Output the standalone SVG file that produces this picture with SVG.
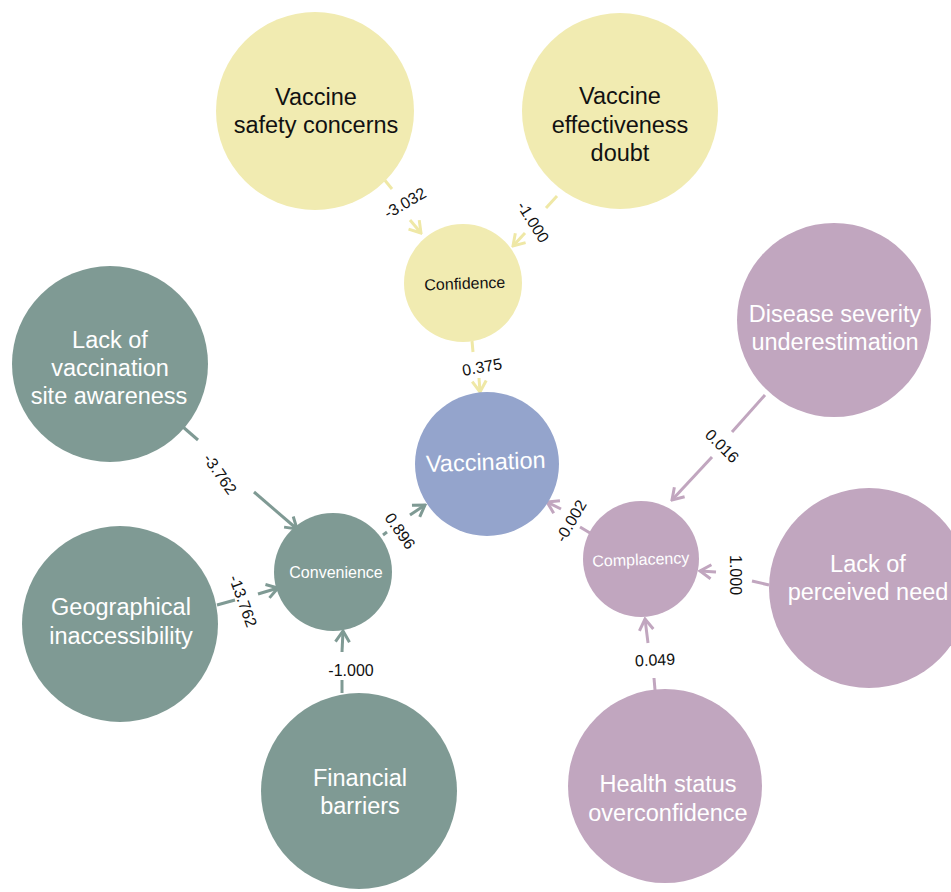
<svg xmlns="http://www.w3.org/2000/svg" width="951" height="892" viewBox="0 0 951 892">
<style>
text{font-family:"Liberation Sans",Arial,sans-serif;text-anchor:middle}
.big{font-size:23.5px}
.small{font-size:16px}
.dark{fill:#111}
.light{fill:#fff}
.lbl{font-size:16px;fill:#111;dominant-baseline:central}
.y{fill:#f1ebb1}
.t{fill:#7f9a94}
.p{fill:#c1a6bf}
.b{fill:#94a4cc}
.ey{stroke:#efe8a6;stroke-width:3;fill:none}
.et{stroke:#7f9a94;stroke-width:3;fill:none}
.ep{stroke:#c1a6bf;stroke-width:3;fill:none}
</style>
<defs>
<marker id="ay" viewBox="-13 -9 15 18" refX="0" refY="0" markerWidth="15" markerHeight="18" markerUnits="userSpaceOnUse" orient="auto"><path d="M-11,-7 L0,0 L-11,7" fill="none" stroke="#efe8a6" stroke-width="3"/></marker>
<marker id="at" viewBox="-13 -9 15 18" refX="0" refY="0" markerWidth="15" markerHeight="18" markerUnits="userSpaceOnUse" orient="auto"><path d="M-11,-7 L0,0 L-11,7" fill="none" stroke="#7f9a94" stroke-width="3"/></marker>
<marker id="ap" viewBox="-13 -9 15 18" refX="0" refY="0" markerWidth="15" markerHeight="18" markerUnits="userSpaceOnUse" orient="auto"><path d="M-11,-7 L0,0 L-11,7" fill="none" stroke="#c1a6bf" stroke-width="3"/></marker>
</defs>
<rect width="951" height="892" fill="#fff"/>

<g id="connectors">
<line class="ey" x1="383" y1="178" x2="392" y2="189"/>
<line class="ey" x1="410" y1="220" x2="421" y2="233" marker-end="url(#ay)"/>
<line class="ey" x1="557" y1="196" x2="546" y2="208"/>
<line class="ey" x1="525" y1="233" x2="513" y2="246" marker-end="url(#ay)"/>
<line class="ey" x1="472" y1="341" x2="473" y2="352"/>
<line class="ey" x1="479" y1="378" x2="480" y2="392" marker-end="url(#ay)"/>
<line class="et" x1="183" y1="427" x2="198" y2="440"/>
<line class="et" x1="254" y1="492" x2="297" y2="529" marker-end="url(#at)"/>
<line class="et" x1="217" y1="605" x2="235" y2="600"/>
<line class="et" x1="258" y1="594" x2="278" y2="588" marker-end="url(#at)"/>
<line class="et" x1="342" y1="693" x2="342" y2="680"/>
<line class="et" x1="342" y1="652" x2="343" y2="631" marker-end="url(#at)"/>
<line class="et" x1="383" y1="535" x2="387" y2="532"/>
<line class="et" x1="410" y1="515" x2="425" y2="505" marker-end="url(#at)"/>
<line class="ep" x1="765" y1="395" x2="732" y2="432"/>
<line class="ep" x1="712" y1="457" x2="672" y2="500" marker-end="url(#ap)"/>
<line class="ep" x1="769" y1="585" x2="752" y2="581"/>
<line class="ep" x1="716" y1="572" x2="700" y2="571" marker-end="url(#ap)"/>
<line class="ep" x1="655" y1="690" x2="654" y2="678"/>
<line class="ep" x1="648" y1="643" x2="645" y2="619" marker-end="url(#ap)"/>
<line class="ep" x1="590" y1="533" x2="580" y2="527"/>
<line class="ep" x1="561" y1="509" x2="547" y2="502" marker-end="url(#ap)"/>
<text class="lbl" transform="translate(405,203) rotate(-30)">-3.032</text>
<text class="lbl" transform="translate(533,222) rotate(58)">-1.000</text>
<text class="lbl" transform="translate(482,367) rotate(-10)">0.375</text>
<text class="lbl" transform="translate(220,474) rotate(55)">-3.762</text>
<text class="lbl" transform="translate(243,601) rotate(70)">-13.762</text>
<text class="lbl" transform="translate(351,670)">-1.000</text>
<text class="lbl" transform="translate(400,531) rotate(55)">0.896</text>
<text class="lbl" transform="translate(722,446) rotate(45)">0.016</text>
<text class="lbl" transform="translate(735,575) rotate(90)">1.000</text>
<text class="lbl" transform="translate(655,660) rotate(-3)">0.049</text>
<text class="lbl" transform="translate(571,521) rotate(-60)">-0.002</text>
</g>

<g id="safety">
<circle class="y" cx="315" cy="111" r="99"/>
<text class="big dark" x="316" y="105">Vaccine</text>
<text class="big dark" x="316" y="133">safety concerns</text>
</g>
<g id="effectiveness">
<circle class="y" cx="620" cy="111" r="98"/>
<text class="big dark" x="620" y="104">Vaccine</text>
<text class="big dark" x="620" y="133">effectiveness</text>
<text class="big dark" x="620" y="161">doubt</text>
</g>
<g id="confidence">
<circle class="y" cx="463" cy="283" r="59"/>
<text class="small dark" transform="translate(465,289) rotate(-2)">Confidence</text>
</g>
<g id="vaccination">
<circle class="b" cx="487" cy="464" r="72"/>
<text class="big light" transform="translate(486,470) rotate(-2)">Vaccination</text>
</g>
<g id="awareness">
<circle class="t" cx="110" cy="364" r="98"/>
<text class="big light" x="110" y="348">Lack of</text>
<text class="big light" x="110" y="376">vaccination</text>
<text class="big light" x="109" y="404">site awareness</text>
</g>
<g id="convenience">
<circle class="t" cx="333" cy="572" r="59"/>
<text class="small light" x="336" y="578">Convenience</text>
</g>
<g id="geographical">
<circle class="t" cx="120" cy="624" r="98"/>
<text class="big light" x="121" y="615">Geographical</text>
<text class="big light" x="121" y="644">inaccessibility</text>
</g>
<g id="financial">
<circle class="t" cx="359" cy="791" r="98"/>
<text class="big light" x="360" y="786">Financial</text>
<text class="big light" x="360" y="814">barriers</text>
</g>
<g id="complacency">
<circle class="p" cx="641" cy="559" r="58"/>
<text class="small light" transform="translate(641,565) rotate(-2)">Complacency</text>
</g>
<g id="severity">
<circle class="p" cx="834" cy="320" r="97"/>
<text class="big light" x="835" y="322">Disease severity</text>
<text class="big light" x="835" y="350">underestimation</text>
</g>
<g id="need">
<circle class="p" cx="869" cy="588" r="100"/>
<text class="big light" x="868" y="572">Lack of</text>
<text class="big light" x="868" y="600">perceived need</text>
</g>
<g id="health">
<circle class="p" cx="665" cy="786" r="97"/>
<text class="big light" x="668" y="792">Health status</text>
<text class="big light" x="668" y="821">overconfidence</text>
</g>
</svg>
